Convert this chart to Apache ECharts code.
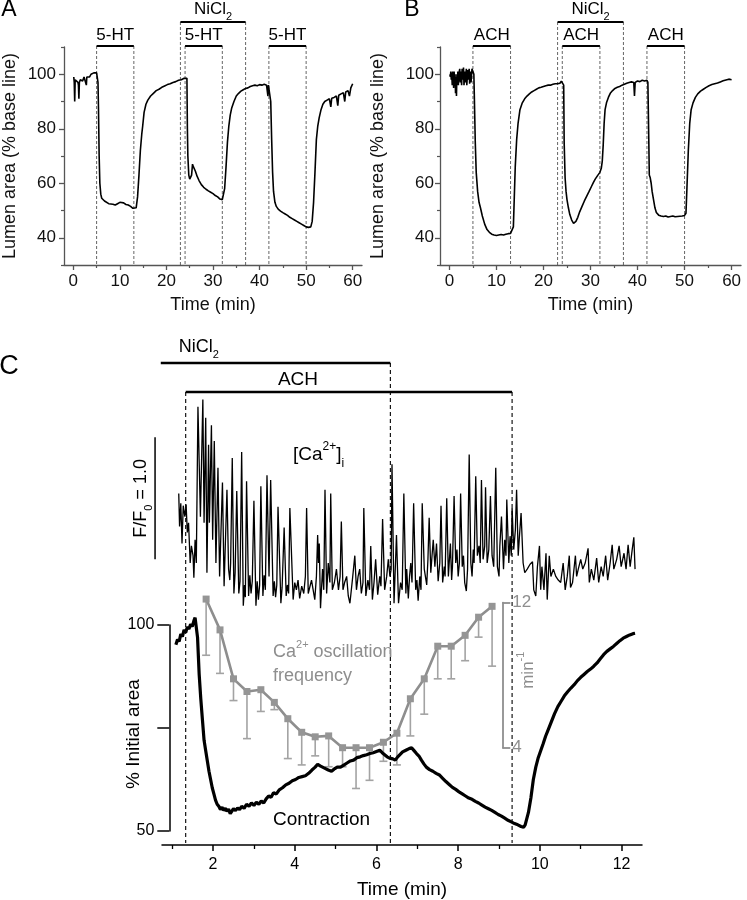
<!DOCTYPE html>
<html><head><meta charset="utf-8">
<script src="https://cdn.jsdelivr.net/npm/echarts@6/dist/echarts.min.js"></script>
<style>html,body{margin:0;padding:0;background:#fff}#c{width:747px;height:900px}</style>
</head><body><div id="c"></div><script>
// ---------------- DATA ----------------
// Panel A: lumen area (% base line) vs time (min), 5-HT applications
const traceA = [[0.1,99],[0.2,97],[0.3,90],[0.4,98],[0.6,97.5],[0.8,98.5],[1.0,97],[1.1,96],[1.2,91],[1.3,97],[1.5,98],[1.8,98.5],[2.0,97.5],[2.3,99],[2.6,98.5],[2.8,96],[2.9,99],[3.2,99.5],[3.5,99],[3.8,100],[4.1,99.5],[4.4,100.5],[4.7,101],[5.0,100.5],[5.2,100],[5.3,97],[5.4,88],[5.55,70],[5.7,60],[5.9,56],[6.1,54.5],[6.4,54],[6.7,53.5],[7.1,53],[7.6,52.5],[8.0,53],[8.5,52.3],[9.0,52],[9.5,52.5],[10.0,53],[10.4,53.2],[10.8,52.8],[11.3,52.2],[11.8,52],[12.3,51.5],[12.8,50.8],[13.1,50.3],[13.5,51],[13.8,55],[14.1,63],[14.4,72],[14.7,78],[14.9,81],[15.2,86],[15.6,89],[16.0,90.5],[16.6,92],[17.2,93],[17.8,94],[18.4,94.5],[19.0,95.2],[19.6,95.7],[20.2,96.2],[20.8,96.5],[21.4,97],[22.0,97.3],[22.6,97.8],[23.2,98],[23.8,98.5],[24.2,99],[24.4,98.5],[24.5,80],[24.6,70],[24.8,63],[25.0,61.5],[25.2,61],[25.4,63],[25.6,67],[25.8,66],[26.2,64.5],[26.6,62.5],[27.0,61],[27.5,59.5],[28.0,58.5],[28.5,57.8],[29.0,57.2],[29.5,56.7],[30.0,56.2],[30.5,55.5],[31.0,55],[31.5,54.2],[32.0,54],[32.3,54.5],[32.5,58],[32.8,66],[33.1,75],[33.4,81],[33.7,85],[34.0,87.5],[34.5,90],[35.0,92],[35.5,93],[36.0,93.8],[36.5,94.3],[37.0,94.8],[37.5,95],[38.0,95.5],[38.5,95.8],[39.0,96],[39.5,95.8],[40.0,96.2],[40.5,96],[41.0,96.3],[41.5,96],[41.8,92],[41.9,96],[42.2,95.5],[42.4,90],[42.6,76],[42.8,64],[43.0,57],[43.3,53],[43.6,51.5],[44.0,50.5],[44.5,49.8],[45.0,49.2],[45.5,48.7],[46.0,48.2],[46.5,47.5],[47.0,47],[47.5,46.5],[48.0,46],[48.5,45.5],[49.0,45],[49.5,44.5],[50.0,44],[50.5,43.8],[51.0,44],[51.3,46],[51.6,53],[51.9,64],[52.2,76],[52.5,81],[52.8,84],[53.2,87],[53.6,89],[54.0,90],[54.5,90.5],[55.0,91],[55.3,88],[55.5,91.2],[56.0,91.5],[56.5,92],[56.8,88.5],[57.0,92.3],[57.5,92.8],[58.0,93.2],[58.3,90],[58.5,93.5],[59.0,94],[59.3,92],[59.6,95],[60.0,96.5]];
// Panel B: lumen area vs time, ACH applications
const traceB = [[0.1,100],[0.2,99],[0.3,101],[0.4,98],[0.5,100.5],[0.6,96],[0.7,101],[0.8,99],[0.9,95],[1.0,101],[1.1,98],[1.2,100],[1.3,93],[1.4,99],[1.5,92],[1.6,100],[1.7,97],[1.8,101],[1.9,96],[2.0,100],[2.2,102],[2.3,97],[2.4,101],[2.6,96],[2.7,102],[2.9,98],[3.0,102.5],[3.1,96],[3.3,101],[3.4,97],[3.6,102],[3.7,96],[3.9,101.5],[4.0,98],[4.2,102],[4.3,96.5],[4.5,101],[4.6,97],[4.8,102],[5.0,101],[5.2,100],[5.3,92],[5.5,75],[5.7,64],[6.0,57],[6.3,53],[6.6,51],[7.0,48],[7.5,45],[8.0,43],[8.5,42],[9.0,41.3],[9.5,41],[10.0,40.8],[10.5,41],[11.0,41.2],[11.5,41],[12.0,41.3],[12.5,41.5],[13.0,41.6],[13.4,42],[13.6,44],[13.8,55],[14.0,66],[14.3,76],[14.6,82],[15.0,87],[15.5,89.5],[16.0,91],[16.5,92],[17.0,92.8],[17.5,93.5],[18.0,94],[18.5,94.5],[19.0,95],[19.5,95.2],[20.0,95.5],[20.5,95.8],[21.0,96],[21.5,96],[22.0,96.3],[22.5,96.5],[23.0,96.5],[23.5,96.7],[23.8,97.5],[24.1,98],[24.3,96],[24.4,75],[24.6,62],[24.8,57],[25.0,54],[25.3,51],[25.6,48.5],[26.0,46.5],[26.4,45.3],[26.6,45],[26.9,46],[27.3,47.5],[27.7,49.5],[28.2,51.5],[28.7,53.5],[29.2,55.3],[29.7,57],[30.2,58.8],[30.6,60.2],[31.0,61.5],[31.5,62.8],[32.0,64],[32.3,65.5],[32.5,68],[32.7,74],[32.9,82],[33.1,87],[33.4,89.5],[33.8,91.5],[34.2,93],[34.7,94],[35.2,94.8],[35.7,95.2],[36.2,95.5],[36.7,96],[37.2,96.3],[37.7,96.7],[38.2,97],[38.7,97.2],[39.2,97],[39.35,92],[39.5,97],[40.0,97.5],[40.5,97.3],[41.0,97.8],[41.5,97.5],[42.0,97.8],[42.2,97],[42.4,75],[42.5,63],[42.7,62],[42.9,60],[43.1,57],[43.4,54],[43.7,51],[44.0,49.3],[44.5,48.3],[45.0,48],[45.5,47.8],[46.0,48],[46.5,47.6],[47.0,47.8],[47.5,48],[48.0,47.7],[48.5,47.8],[49.0,47.9],[49.5,48],[50.0,48.2],[50.3,49],[50.5,58],[50.8,72],[51.1,82],[51.4,87],[51.8,89.5],[52.3,91.5],[52.8,92.8],[53.4,93.8],[54.0,94.5],[54.6,95.2],[55.2,95.8],[55.8,96.2],[56.4,96.5],[57.0,96.8],[57.6,97.2],[58.2,97.6],[58.8,97.9],[59.4,98.2],[60.0,98]];
// Panel C: [Ca2+]i fluorescence (F/F0) vs time (min)
const caTrace = [[1.16,1.87],[1.18,1.60],[1.21,1.79],[1.24,1.46],[1.27,1.77],[1.31,1.68],[1.34,1.78],[1.37,1.55],[1.40,1.63],[1.44,1.30],[1.47,1.44],[1.51,1.36],[1.53,1.18],[1.56,1.49],[1.59,1.30],
[1.63,2.58],[1.69,1.68],[1.75,2.64],[1.78,1.63],[1.82,2.49],[1.85,1.22],[1.89,2.27],[1.91,1.63],[1.96,2.43],[1.99,1.49],[2.03,2.30],[2.07,1.30],[2.12,2.08],[2.16,1.19],[2.23,1.96],[2.27,1.11],[2.34,1.90],[2.38,1.25],[2.41,1.16],[2.43,1.30],[2.47,2.16],[2.51,1.05],[2.54,1.22],[2.58,1.89],[2.63,1.05],[2.66,1.15],[2.70,2.21],[2.74,0.95],[2.77,1.12],[2.79,1.02],[2.82,1.97],[2.87,1.03],[2.90,1.20],[2.93,1.05],[2.96,1.15],[3.00,1.81],[3.05,0.95],[3.08,1.15],[3.11,1.00],[3.14,1.12],[3.17,1.93],[3.22,1.03],[3.25,1.20],[3.28,1.08],[3.32,2.02],[3.37,1.19],[3.41,1.98],[3.47,1.03],[3.50,1.15],[3.53,1.02],[3.56,1.12],[3.59,1.76],[3.66,0.97],[3.69,1.10],[3.74,1.59],[3.79,1.03],[3.82,1.12],[3.85,1.05],[3.88,1.75],[3.96,1.00],
[4.00,1.14],[4.04,1.08],[4.08,1.16],[4.12,1.01],[4.17,1.11],[4.22,1.05],[4.26,1.19],[4.29,1.75],[4.33,1.05],[4.41,1.16],[4.49,1.00],[4.53,1.19],[4.56,1.53],[4.58,1.30],[4.60,1.46],[4.63,0.93],[4.68,1.25],[4.71,1.08],[4.74,1.90],[4.78,1.05],[4.82,1.30],[4.86,1.14],[4.88,1.87],[4.92,1.08],[4.97,1.14],[5.02,1.25],[5.07,1.08],[5.11,1.19],[5.14,1.64],[5.18,1.08],[5.22,1.14],[5.27,1.19],[5.31,1.03],[5.35,0.97],[5.41,1.16],[5.47,1.36],[5.51,1.08],[5.55,1.19],[5.59,1.25],[5.63,1.05],[5.67,1.14],[5.69,1.75],[5.74,1.03],[5.79,1.16],[5.83,1.08],[5.86,1.44],[5.90,1.00],[5.94,1.14],[5.98,1.33],[6.03,1.04],[6.08,1.19],[6.11,1.11],[6.15,1.66],[6.20,1.08],[6.25,1.19],[6.29,1.33],[6.33,1.19],[6.36,1.25],[6.38,2.11],[6.43,0.97],[6.49,1.53],[6.54,0.97],[6.59,1.14],[6.63,1.08],[6.67,1.87],[6.72,1.05],
[6.74,1.25],[6.78,1.01],[6.81,1.19],[6.84,1.30],[6.87,1.14],[6.91,1.79],[6.96,1.08],[6.99,1.16],[7.02,0.99],[7.06,1.19],[7.09,1.08],[7.12,1.79],[7.17,1.25],[7.23,1.12],[7.26,1.33],[7.29,1.67],[7.33,1.22],[7.36,1.36],[7.39,1.49],[7.43,1.27],[7.47,1.46],[7.51,1.15],[7.55,1.30],[7.58,1.77],[7.62,1.14],[7.66,1.27],[7.68,1.19],[7.72,1.83],[7.76,1.19],[7.81,1.46],[7.84,1.16],[7.86,1.27],[7.90,1.85],[7.94,1.30],[7.97,1.41],[8.00,1.19],[8.03,1.30],[8.06,1.87],[8.10,1.27],[8.13,1.36],[8.16,1.14],[8.20,1.07],[8.23,1.25],[8.27,2.19],[8.31,1.30],[8.34,1.19],[8.37,1.41],[8.39,1.30],[8.43,2.01],[8.47,1.36],[8.51,1.44],[8.54,1.30],[8.57,1.98],[8.61,1.33],[8.65,1.44],[8.67,1.92],[8.71,1.30],[8.75,1.41],[8.79,1.85],[8.83,1.36],[8.87,1.27],[8.92,2.08],[8.96,1.27],[9.00,1.19],[9.02,1.44],[9.06,1.68],[9.11,1.25],[9.14,1.49],[9.17,1.36],[9.19,1.82],[9.24,1.30],[9.27,1.52],[9.30,1.36],[9.32,1.75],[9.36,1.41],[9.40,1.57],[9.43,1.90],[9.47,1.36],[9.50,1.52],[9.54,1.71],[9.59,1.30],
[9.63,1.22],[9.69,1.25],[9.76,1.29],[9.82,1.31],[9.85,1.08],[9.90,1.03],[9.94,1.27],[9.99,1.44],[10.02,1.08],[10.05,1.27],[10.10,1.08],[10.15,1.38],[10.18,1.00],[10.23,1.36],[10.27,1.19],[10.33,1.25],[10.39,1.19],[10.45,1.16],[10.51,1.14],[10.57,1.30],[10.62,1.08],[10.67,1.19],[10.72,1.36],[10.75,1.10],[10.80,1.14],[10.87,1.36],[10.90,1.19],[10.94,1.25],[11.00,1.33],[11.05,1.25],[11.11,1.30],[11.18,1.42],[11.21,1.14],[11.26,1.25],[11.32,1.16],[11.39,1.34],[11.44,1.14],[11.50,1.27],[11.55,1.19],[11.61,1.36],[11.66,1.16],[11.72,1.30],[11.77,1.45],[11.81,1.25],[11.88,1.33],[11.94,1.44],[11.99,1.27],[12.06,1.38],[12.11,1.25],[12.16,1.45],[12.21,1.27],[12.26,1.41],[12.30,1.51],[12.33,1.25]];
// Panel C: contraction, % initial area vs time (min)
const areaTrace = [[1.09,95.2],[1.13,96.5],[1.17,96],[1.21,97.8],[1.25,97.2],[1.29,98.8],[1.33,98.2],[1.37,99.5],[1.41,99],[1.45,100.2],[1.49,99.6],[1.53,101],[1.56,101.8],[1.59,102.2],[1.62,97],[1.66,88],[1.70,82],[1.74,77],[1.78,72],[1.82,69.5],[1.86,67],[1.90,64.5],[1.94,62.5],[1.98,60.5],[2.02,59],[2.06,57.5],[2.10,56.5],[2.14,56],[2.18,55.2],[2.22,55.8],[2.26,55],[2.30,55.5],[2.34,54.8],[2.38,55.3],[2.42,54.2],[2.46,54.5],[2.50,55.4],[2.55,55],[2.60,55.6],[2.65,55.2],[2.70,56],[2.76,55.5],[2.82,56.5],[2.88,56],[2.94,56.8],[3.0,56.2],[3.06,57],[3.12,56.5],[3.18,57.3],[3.24,56.8],[3.30,57.8],[3.36,58.5],[3.42,58.2],[3.48,59.3],[3.55,59],[3.62,60],[3.70,60.5],[3.78,61.2],[3.86,61.6],[3.94,62.2],[4.02,62.5],[4.10,63],[4.18,63.2],[4.26,63.4],[4.34,64],[4.42,64.8],[4.50,65.5],[4.56,66.2],[4.62,65.8],[4.68,65.5],[4.74,65.2],[4.82,64.8],[4.90,64.5],[4.96,65],[5.04,65.5],[5.12,65.5],[5.20,66],[5.28,66.5],[5.36,67],[5.44,67.2],[5.52,67.8],[5.60,68],[5.68,68.3],[5.76,68.5],[5.84,68.8],[5.92,69],[6.0,69.3],[6.08,69.6],[6.14,69],[6.20,68.5],[6.26,68],[6.32,67.7],[6.40,67.5],[6.46,67.2],[6.52,68],[6.58,68.6],[6.64,69.2],[6.72,69.6],[6.80,70],[6.86,70.2],[6.92,69.5],[6.98,68.8],[7.04,68.2],[7.10,67.2],[7.16,66.3],[7.22,65.5],[7.30,64.9],[7.38,64.5],[7.46,64],[7.54,63.6],[7.62,62.8],[7.70,62],[7.78,61.3],[7.86,60.6],[7.94,60.1],[8.02,59.5],[8.10,59],[8.18,58.5],[8.26,58],[8.34,57.7],[8.42,57.2],[8.50,56.8],[8.58,56.3],[8.66,55.8],[8.74,55.4],[8.82,55],[8.90,54.5],[8.98,54],[9.06,53.6],[9.14,53.1],[9.22,52.6],[9.30,52.2],[9.38,51.8],[9.46,51.5],[9.54,51.1],[9.60,50.9],[9.64,51.5],[9.68,53],[9.72,54.5],[9.78,58],[9.84,62.5],[9.90,65.5],[9.96,67.8],[10.02,69.5],[10.08,71.2],[10.14,73],[10.20,74.5],[10.28,76.5],[10.36,78.5],[10.44,80.2],[10.52,81.5],[10.60,82.8],[10.68,83.8],[10.76,84.7],[10.84,85.5],[10.92,86.5],[11.00,87.3],[11.08,88],[11.16,88.7],[11.24,89.3],[11.32,90],[11.40,90.8],[11.48,91.8],[11.56,92.8],[11.64,93.6],[11.72,94.2],[11.80,94.8],[11.88,95.5],[11.96,96.2],[12.04,96.8],[12.12,97.2],[12.20,97.6],[12.28,97.9],[12.33,98]];
// Panel C: Ca2+ oscillation frequency (min^-1), mean and lower error bound
const freqTimes = [1.83,2.17,2.50,2.83,3.17,3.50,3.83,4.17,4.50,4.83,5.17,5.50,5.83,6.17,6.50,6.83,7.17,7.50,7.83,8.17,8.50,8.83];
const freqMeans = [12.2,10.5,7.8,7.1,7.2,6.5,5.6,4.85,4.6,4.65,4.0,4.0,4.0,4.3,4.8,6.7,7.8,9.6,9.6,10.2,11.2,11.8];
const freqLower = [9.1,8.1,6.6,4.5,6.0,6.1,3.4,3.05,3.55,2.95,2.95,1.75,2.2,3.25,3.05,4.65,5.85,7.8,7.8,8.8,10.1,8.5];
// Ticks
const abTimeTicks = [0,10,20,30,40,50,60];
const abTimeMinor = [5,15,25,35,45,55];
const abAreaTicks = [40,60,80,100];
const abAreaMinor = [30,50,70,90,110];
const cTimeTicks = [2,4,6,8,10,12];
const cTimeMinor = [1,3,5,7,9,11];
const cAreaTicks = [50,75,100];
const cAreaLabels = [50,100];
const freqTicks = [4,12];
// Drug application periods (min)
const periodsAB = [[5,13],[24,32],[42,50]];
const niclAB = [23,37];
const niclC = [0.72,6.34];
const achC = [1.33,9.32];
const scaleBarC = {t:0.58, from:1.33, to:2.33};

// ---------------- CHART ----------------
const SANS = "'Liberation Sans', Arial, sans-serif";
const GRAY = '#8e8e8e';
const chart = echarts.init(document.getElementById('c'));

function mainX(gi){
  return {gridIndex:gi, type:'value', position:'bottom', min:-2, max:62,
    axisLine:{onZero:false, lineStyle:{color:'#555', width:1.3}},
    axisTick:{customValues:abTimeTicks, length:5, lineStyle:{color:'#555', width:1.3}},
    axisLabel:{customValues:abTimeTicks, color:'#111', fontSize:17, fontFamily:SANS, margin:8},
    splitLine:{show:false}, name:'Time (min)', nameLocation:'middle', nameGap:31,
    nameTextStyle:{fontSize:18, fontFamily:SANS, color:'#111'}};
}
function minorX(gi){
  return {gridIndex:gi, type:'value', position:'bottom', min:-2, max:62,
    axisLine:{show:false, onZero:false}, axisTick:{customValues:abTimeMinor, length:3, lineStyle:{color:'#555', width:1.2}},
    axisLabel:{show:false}, splitLine:{show:false}};
}
function mainY(gi, gap, margin){
  return {gridIndex:gi, type:'value', position:'left', min:30, max:110,
    axisLine:{show:true, onZero:false, lineStyle:{color:'#555', width:1.3}},
    axisTick:{customValues:abAreaTicks, length:5, lineStyle:{color:'#555', width:1.3}},
    axisLabel:{customValues:abAreaTicks, color:'#111', fontSize:17, fontFamily:SANS, margin:margin},
    splitLine:{show:false}, name:'Lumen area (% base line)', nameLocation:'middle', nameGap:gap,
    nameTextStyle:{fontSize:18, fontFamily:SANS, color:'#111'}};
}
function minorY(gi){
  return {gridIndex:gi, type:'value', position:'left', min:30, max:110,
    axisLine:{show:false, onZero:false}, axisTick:{customValues:abAreaMinor, length:3, lineStyle:{color:'#555', width:1.2}},
    axisLabel:{show:false}, splitLine:{show:false}};
}

function richSet(size, family, color){
  return {
    m:{fontSize:size, fontFamily:family, fill:color, color:color, lineHeight:Math.round(size*1.5), verticalAlign:'middle'},
    b:{fontSize:Math.round(size*0.62), fontFamily:family, fill:color, color:color, lineHeight:Math.round(size*0.7), verticalAlign:'bottom'},
    p:{fontSize:Math.round(size*0.62), fontFamily:family, fill:color, color:color, lineHeight:Math.round(size*0.7), verticalAlign:'top'}
  };
}

const option = {
  animation:false, backgroundColor:'#fff',
  grid:[
    {left:61, top:47, width:301, height:218},
    {left:440, top:47, width:301, height:218},
    {left:162, top:380, width:480, height:244},
    {left:162, top:625, width:480, height:206.7},
    {left:162, top:602.7, width:480, height:145}
  ],
  xAxis:[
    mainX(0), minorX(0), mainX(1), minorX(1),
    {gridIndex:2, type:'value', min:0.75, max:12.5, show:false},
    {gridIndex:3, type:'value', position:'bottom', offset:14, min:0.75, max:12.5,
      axisLine:{onZero:false, lineStyle:{color:'#000', width:1.5}},
      axisTick:{customValues:cTimeTicks, length:6, lineStyle:{color:'#000', width:1.5}},
      axisLabel:{customValues:cTimeTicks, color:'#000', fontSize:16, fontFamily:SANS, margin:12},
      splitLine:{show:false}, name:'Time (min)', nameLocation:'middle', nameGap:35,
      nameTextStyle:{fontSize:19, fontFamily:SANS, color:'#000'}},
    {gridIndex:3, type:'value', position:'bottom', offset:14, min:0.75, max:12.5,
      axisLine:{show:false, onZero:false}, axisTick:{customValues:cTimeMinor, length:4, lineStyle:{color:'#000', width:1.3}},
      axisLabel:{show:false}, splitLine:{show:false}},
    {gridIndex:4, type:'value', min:0.75, max:12.5, show:false}
  ],
  yAxis:[
    mainY(0, 45, 8), minorY(0), mainY(1, 53, 6), minorY(1),
    {gridIndex:2, type:'value', min:0.8, max:2.8, show:false},
    {gridIndex:3, type:'value', position:'left', offset:-7.3, min:50, max:100,
      axisLine:{show:true, onZero:false, lineStyle:{color:'#000', width:1.5}},
      axisTick:{customValues:cAreaTicks, length:12, lineStyle:{color:'#000', width:1.5}},
      axisLabel:{customValues:cAreaLabels, color:'#000', fontSize:16, fontFamily:SANS, margin:15},
      splitLine:{show:false}},
    {gridIndex:4, type:'value', position:'right', offset:-139.7, min:4, max:12,
      axisLine:{show:true, onZero:false, lineStyle:{color:GRAY, width:1.8}},
      axisTick:{customValues:freqTicks, length:8, lineStyle:{color:GRAY, width:1.8}},
      axisLabel:{customValues:freqTicks, color:GRAY, fontSize:17, fontFamily:SANS, margin:10},
      splitLine:{show:false}}
  ],
  series:[
    {type:'line', xAxisIndex:0, yAxisIndex:0, data:traceA, symbol:'none', silent:true, lineStyle:{color:'#000', width:1.6}},
    {type:'line', xAxisIndex:2, yAxisIndex:2, data:traceB, symbol:'none', silent:true, lineStyle:{color:'#000', width:1.6}},
    {type:'line', xAxisIndex:4, yAxisIndex:4, data:caTrace, symbol:'none', silent:true, clip:false, lineStyle:{color:'#000', width:1.3}},
    {type:'line', xAxisIndex:5, yAxisIndex:5, data:areaTrace, symbol:'none', silent:true, clip:false, lineStyle:{color:'#000', width:3.2}},
    {type:'custom', xAxisIndex:7, yAxisIndex:6, silent:true, clip:false, z:3,
      data:freqTimes.map((t,i)=>[t, freqMeans[i], freqLower[i]]),
      renderItem:function(params, api){
        const p1 = api.coord([api.value(0), api.value(1)]);
        const p2 = api.coord([api.value(0), api.value(2)]);
        const st = {stroke:'#a3a3a3', lineWidth:1.6};
        return {type:'group', children:[
          {type:'line', shape:{x1:p1[0], y1:p1[1], x2:p2[0], y2:p2[1]}, style:st},
          {type:'line', shape:{x1:p2[0]-4, y1:p2[1], x2:p2[0]+4, y2:p2[1]}, style:st}
        ]};
      }},
    {type:'line', xAxisIndex:7, yAxisIndex:6, z:4, silent:true, clip:false,
      data:freqTimes.map((t,i)=>[t, freqMeans[i]]), symbol:'rect', symbolSize:7,
      lineStyle:{color:GRAY, width:2.6}, itemStyle:{color:'#959595'}}
  ]
};
chart.setOption(option);

// ---------------- ANNOTATIONS (positioned through the axes) ----------------
const px = (xi, t) => chart.convertToPixel({xAxisIndex:xi}, t);
const py = (yi, v) => chart.convertToPixel({yAxisIndex:yi}, v);
const G = [];
function line(x1,y1,x2,y2,stroke,width,dash){
  G.push({type:'line', silent:true, shape:{x1,y1,x2,y2}, style:{stroke, lineWidth:width, lineDash:dash||null}});
}
function text(x,y,str,size,family,color,align,rot){
  G.push({type:'text', silent:true, x, y, rotation:rot||0,
    style:{text:str, fontSize:size, fontFamily:family, fill:color, align:align||'center', verticalAlign:'middle'}});
}
function rtext(x,y,str,size,family,color,align,rot){
  G.push({type:'text', silent:true, x, y, rotation:rot||0,
    style:{text:str, rich:richSet(size,family,color), align:align||'center', verticalAlign:'middle'}});
}

// Panels A and B
[[0,0,'5-HT'],[2,2,'ACH']].forEach(([xi,yi,drug])=>{
  const top = py(yi,110), bottom = py(yi,30);
  const barY = top - 1, niY = top - 25;
  periodsAB.forEach(([a,b])=>{
    line(px(xi,a), barY, px(xi,a), bottom, '#666', 1, [3,2]);
    line(px(xi,b), barY, px(xi,b), bottom, '#666', 1, [3,2]);
    line(px(xi,a), barY, px(xi,b), barY, '#000', 2);
    text(px(xi,(a+b)/2), barY-11, drug, 17, SANS, '#000');
  });
  line(px(xi,niclAB[0]), niY, px(xi,niclAB[0]), bottom, '#666', 1, [3,2]);
  line(px(xi,niclAB[1]), niY, px(xi,niclAB[1]), bottom, '#666', 1, [3,2]);
  line(px(xi,niclAB[0]), niY, px(xi,niclAB[1]), niY, '#000', 2);
  rtext(px(xi,(niclAB[0]+niclAB[1])/2), niY-13, '{m|NiCl}{b|2}', 17, SANS, '#000');
});

// Panel C
const caTop = py(4, 2.8);
const axisC = py(5, 50) + 14;
const niY = caTop - 17, achY = caTop + 12;
line(px(4,niclC[0]), niY, px(4,niclC[1]), niY, '#000', 2.6);
line(px(4,achC[0]), achY, px(4,achC[1]), achY, '#000', 2.6);
line(px(4,achC[0]), achY, px(4,achC[0]), axisC-2, '#000', 1.1, [4,3]);
line(px(4,niclC[1]), niY, px(4,niclC[1]), axisC-2, '#000', 1.1, [4,3]);
line(px(4,achC[1]), achY, px(4,achC[1]), axisC-2, '#000', 1.1, [4,3]);
rtext(px(4,niclC[0])+18, niY-16, '{m|NiCl}{b|2}', 18, SANS, '#000', 'left');
text(298, achY-12.5, 'ACH', 19, SANS, '#000');
rtext(293, 455, '{m|[Ca}{p|2+}{m|]}{b|i}', 19, SANS, '#000', 'left');
// scale bar
const sbX = px(4, scaleBarC.t);
line(sbX, py(4,scaleBarC.from), sbX, py(4,scaleBarC.to), '#000', 1.5);
rtext(141, (py(4,scaleBarC.from)+py(4,scaleBarC.to))/2, '{m|F/F}{b|0}{m| = 1.0}', 18, SANS, '#000', 'center', Math.PI/2);
rtext(273, 652.5, '{m|Ca}{p|2+}{m| oscillation}', 18, SANS, GRAY, 'left');
text(273, 676, 'frequency', 18, SANS, GRAY, 'left');
text(273, 820, 'Contraction', 19, SANS, '#000', 'left');
// axis names placed between the bracket labels
text(134, (py(5,50)+py(5,100))/2 + 6, '% Initial area', 19, SANS, '#000', 'center', Math.PI/2);
rtext(528, (py(6,4)+py(6,12))/2 - 5, '{m|min}{p|-1}', 17, SANS, GRAY, 'center', Math.PI/2);
// panel letters
text(9, 10, 'A', 23, SANS, '#000');
text(412, 10, 'B', 23, SANS, '#000');
text(9, 367, 'C', 27, SANS, '#000');

chart.setOption({graphic:G});
</script></body></html>
